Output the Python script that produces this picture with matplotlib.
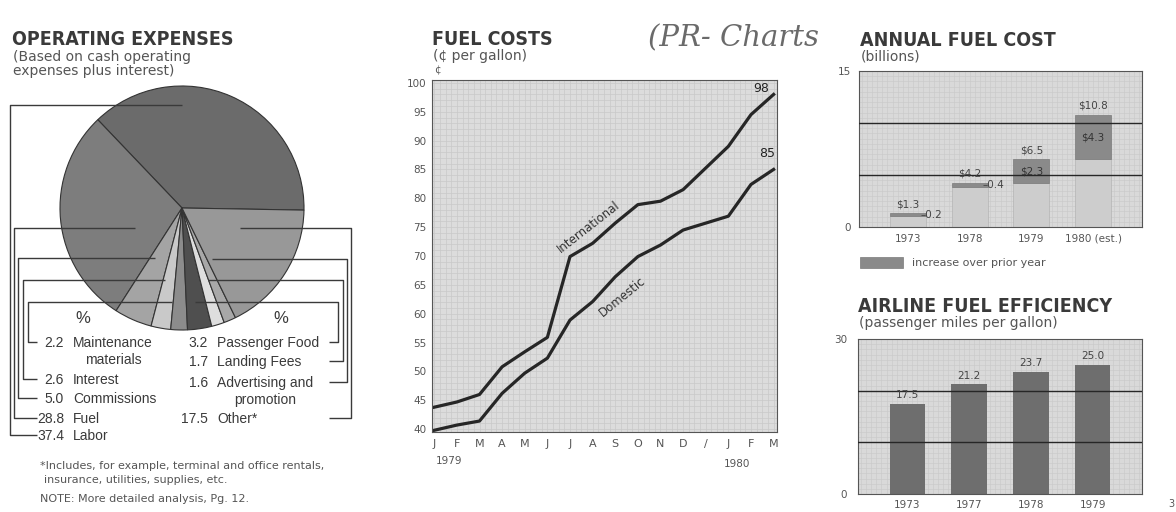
import numpy as np
import matplotlib
matplotlib.use('Agg')
import matplotlib.pyplot as plt
from matplotlib import font_manager as fm
from matplotlib.ticker import MultipleLocator
from matplotlib.patches import Rectangle

plt.rcParams['font.family'] = ['Liberation Sans', 'DejaVu Sans']

# --- data ---------------------------------------------------------------
# operating expenses, % (pie order, counter-clockwise)
exp_names = ['Labor', 'Fuel', 'Commissions', 'Interest', 'Maintenance\nmaterials',
             'Passenger Food', 'Landing Fees', 'Advertising and\npromotion', 'Other*']
exp_pct = [37.4, 28.8, 5.0, 2.6, 2.2, 3.2, 1.7, 1.6, 17.5]
exp_colors = ['#6b6b6b', '#7d7d7d', '#a4a4a4', '#c9c9c9', '#8c8c8c',
              '#4f4f4f', '#dedede', '#a8a8a8', '#989898']

# fuel costs, cents per gallon, Jan 1979 - Mar 1980
month_labels = ['J', 'F', 'M', 'A', 'M', 'J', 'J', 'A', 'S', 'O', 'N', 'D', '/', 'J', 'F', 'M']
month_pos = [0, 1, 2, 3, 4, 5, 6, 7, 8, 9, 10, 11, 13, 14, 15]
intl = [43.8, 44.7, 46.0, 50.8, 53.4, 55.9, 69.9, 72.2, 75.7, 78.9, 79.5, 81.5, 89.0, 94.5, 98.0]
dom = [39.8, 40.7, 41.4, 46.2, 49.7, 52.3, 58.9, 62.1, 66.4, 69.9, 71.9, 74.5, 76.9, 82.4, 85.0]

# annual fuel cost, $ billions
ann_years = ['1973', '1978', '1979', '1980 (est.)']
ann_total = [1.3, 4.2, 6.5, 10.8]
ann_incr = [0.2, 0.4, 2.3, 4.3]

# airline fuel efficiency, passenger miles per gallon
eff_years = ['1973', '1977', '1978', '1979']
eff_vals = [17.5, 21.2, 23.7, 25.0]


def title_font():
    # a narrow bold face if one is installed, else a smaller regular bold
    for fam, stretch, size in [('Liberation Sans Narrow', 'normal', 15),
                               ('DejaVu Sans', 'condensed', 14)]:
        try:
            path = fm.findfont(fm.FontProperties(family=fam, stretch=stretch, weight='bold'),
                               fallback_to_default=False)
        except Exception:
            continue
        if 'Narrow' in path or 'Condensed' in path:
            return dict(family=fam, fontstretch=stretch, fontsize=size)
    return dict(family='Liberation Sans', fontsize=13)


TXT = '#3a3a3a'
TITLE = dict(fontweight='bold', color='#3a3a3a', **title_font())
SMALL = 'DejaVu Sans'
SUB = dict(family=SMALL, fontsize=10, color='#555555')

fig = plt.figure(figsize=(11.76, 5.12), dpi=100)
page = fig.add_axes([0, 0, 1, 1])
H = 512


def txt(x, y, s, **kw):
    kw.setdefault('va', 'baseline')
    page.text(x, H - y, s, **kw)


def seg(xs, ys):
    page.plot(xs, [H - y for y in ys], color='#3a3a3a', lw=1, solid_capstyle='butt')


# --- operating expenses pie ---------------------------------------------
page.pie(exp_pct, colors=exp_colors, startangle=-1, center=(182, H - 208), radius=122,
         wedgeprops=dict(edgecolor='#333333', linewidth=0.8))
page.set_xlim(0, 1176)
page.set_ylim(0, H)
page.set_aspect('auto')
page.axis('off')

txt(12, 45, 'OPERATING EXPENSES', **TITLE)
txt(13, 61, '(Based on cash operating', **SUB)
txt(13, 75, 'expenses plus interest)', **SUB)

# leader layout (left: top to bottom in list)
left_items = [4, 3, 2, 1, 0]
left_label_y = [342, 379, 398, 418, 435]
left_level_y = [302, 280, 258, 228, 105]
left_rail_x = [28, 23, 18, 14, 10]
left_end_x = [172, 165, 155, 135, 182]
right_items = [5, 6, 7, 8]
right_label_y = [342, 361, 382, 418]
right_level_y = [302, 280, 259, 228]
right_rail_x = [338, 343, 347, 351]
right_end_x = [195, 208, 212, 240]

LAB = dict(fontsize=10, color=TXT)


def exp_label(x_val, x_name, ly, i):
    txt(x_val, ly + 5, f'{exp_pct[i]:.1f}', ha='right', **LAB)
    if '\n' in exp_names[i]:
        txt(x_name, ly - 6, exp_names[i], ha='left', va='top', multialignment='center',
            linespacing=1.3, **LAB)
    else:
        txt(x_name, ly + 5, exp_names[i], ha='left', **LAB)


txt(83, 323, '%', ha='center', fontsize=12, color=TXT)
txt(281, 323, '%', ha='center', fontsize=12, color=TXT)
for i, ly, lv, rx, ex in zip(left_items, left_label_y, left_level_y, left_rail_x, left_end_x):
    seg([ex, rx, rx, 37], [lv, lv, ly, ly])
    exp_label(64, 73, ly, i)
for i, ly, lv, rx, ex in zip(right_items, right_label_y, right_level_y, right_rail_x, right_end_x):
    seg([ex, rx, rx, 329], [lv, lv, ly, ly])
    exp_label(208, 217, ly, i)

NOTE = dict(family=SMALL, fontsize=8, color='#555')
txt(40, 469, '*Includes, for example, terminal and office rentals,', **NOTE)
txt(44, 483, 'insurance, utilities, supplies, etc.', **NOTE)
txt(40, 502, 'NOTE: More detailed analysis, Pg. 12.', **NOTE)

# handwritten note and page number
txt(648, 46, '(PR- Charts', family='DejaVu Serif', fontstyle='italic', fontsize=21, color='#6a6a6a')
txt(1168, 507, '3', family=SMALL, fontsize=7, color='#555')

# --- fuel costs line chart ----------------------------------------------
txt(432, 45, 'FUEL COSTS', **TITLE)
txt(433, 60, '(¢ per gallon)', **SUB)
txt(437, 73, '¢', ha='center', family=SMALL, fontsize=7.5, color='#555')
txt(449, 464, '1979', ha='center', family=SMALL, fontsize=7.5, color='#555')
txt(737, 467, '1980', ha='center', family=SMALL, fontsize=7.5, color='#555')

ax1 = fig.add_axes([432 / 1176, (H - 432) / H, 345 / 1176, 352 / H])
ax1.set_facecolor('#dcdcdc')
ax1.plot(month_pos, intl, color='#262626', lw=2.3, solid_joinstyle='round')
ax1.plot(month_pos, dom, color='#262626', lw=2.3, solid_joinstyle='round')
ax1.set_xlim(-0.1, 15.15)
ax1.set_ylim(39.5, 100.5)
ax1.set_yticks(range(40, 101, 5))
ax1.set_xticks(range(len(month_labels)))
ax1.set_xticklabels(month_labels)
ax1.xaxis.set_minor_locator(MultipleLocator(0.25))
ax1.yaxis.set_minor_locator(MultipleLocator(1))
ax1.grid(which='both', color='#c9c9c9', lw=0.5)
ax1.set_axisbelow(True)
ax1.tick_params(which='both', length=0, colors='#555', labelsize=8)
ax1.tick_params(axis='y', pad=4, labelsize=7.5)
ax1.tick_params(axis='x', pad=5)
for lab in ax1.get_xticklabels() + ax1.get_yticklabels():
    lab.set_family(SMALL)
for s in ax1.spines.values():
    s.set_color('#555')
    s.set_linewidth(0.8)
ax1.text(month_pos[-1] - 0.55, intl[-1] + 1.1, f'{intl[-1]:.0f}', ha='center', va='center',
         family=SMALL, fontsize=9, color='#222')
ax1.text(month_pos[-1] - 0.3, dom[-1] + 2.8, f'{dom[-1]:.0f}', ha='center', va='center',
         family=SMALL, fontsize=9, color='#222')
ax1.text(6.8, 75.0, 'International', rotation=38, ha='center', va='center',
         family=SMALL, fontsize=8.5, color='#333')
ax1.text(8.3, 62.9, 'Domestic', rotation=39, ha='center', va='center',
         family=SMALL, fontsize=8.5, color='#333')


def style_bar_axes(ax, ymax, ypad):
    ax.set_facecolor('#d9d9d9')
    ax.set_xlim(-0.794, 3.794)
    ax.set_ylim(0, ymax)
    ax.set_yticks([0, ymax])
    ax.xaxis.set_minor_locator(MultipleLocator(1 / 12))
    ax.yaxis.set_minor_locator(MultipleLocator(ymax / 30))
    ax.grid(which='both', color='#c8c8c8', lw=0.4)
    ax.set_axisbelow(True)
    ax.tick_params(which='both', length=0, colors='#555', labelsize=7.5)
    ax.tick_params(axis='y', pad=ypad)
    for lab in ax.get_xticklabels() + ax.get_yticklabels():
        lab.set_family(SMALL)
    for s in ax.spines.values():
        s.set_color('#555')
        s.set_linewidth(0.8)


# --- annual fuel cost bars ----------------------------------------------
txt(860, 46, 'ANNUAL FUEL COST', **TITLE)
txt(861, 60, '(billions)', **SUB)

ax2 = fig.add_axes([859 / 1176, (H - 227) / H, 283 / 1176, 156 / H])
xs = np.arange(len(ann_years))
w = 0.58
base = [t - d for t, d in zip(ann_total, ann_incr)]
ax2.bar(xs, base, width=w, color='#cdcdcd', edgecolor='#b4b4b4', lw=0.5, zorder=2)
ax2.bar(xs, ann_incr, bottom=base, width=w, color='#8a8a8a', edgecolor='#7a7a7a', lw=0.5, zorder=2)
for x, t, d in zip(xs, ann_total, ann_incr):
    ax2.text(x, t + 0.9, f'${t}', ha='center', va='center', family=SMALL, fontsize=7.5,
             color='#444', zorder=4)
    if d >= 1:
        ax2.text(x, t - d / 2, f'${d}', ha='center', va='center', family=SMALL, fontsize=7.5,
                 color='#333', zorder=4)
    else:
        ax2.text(x + w / 2 - 0.08, t - d / 2, f'–{d}', ha='left', va='center', family=SMALL,
                 fontsize=7.5, color='#444', zorder=4)
for yv in (5, 10):
    ax2.axhline(yv, color='#262626', lw=1, zorder=3)
ax2.set_xticks(xs)
ax2.set_xticklabels(ann_years)
style_bar_axes(ax2, 15, 6)
ax2.tick_params(axis='x', pad=5)

page.add_patch(Rectangle((860, H - 268), 43, 11, facecolor='#8a8a8a', edgecolor='#7a7a7a', lw=0.5))
txt(912, 266, 'increase over prior year', family=SMALL, fontsize=8, color='#555')

# --- airline fuel efficiency bars ---------------------------------------
txt(858, 312, 'AIRLINE FUEL EFFICIENCY', **TITLE)
txt(859, 327, '(passenger miles per gallon)', **SUB)

ax3 = fig.add_axes([858 / 1176, (H - 494) / H, 284 / 1176, 155 / H])
xs = np.arange(len(eff_years))
ax3.bar(xs, eff_vals, width=0.57, color='#6e6e6e', zorder=2)
for x, v in zip(xs, eff_vals):
    ax3.text(x, v + 1.7, f'{v:.1f}', ha='center', va='center', family=SMALL, fontsize=7.5,
             color='#444', zorder=4)
for yv in (10, 20):
    ax3.axhline(yv, color='#262626', lw=1, zorder=3)
ax3.set_xticks(xs)
ax3.set_xticklabels(eff_years)
style_bar_axes(ax3, 30, 8)
ax3.tick_params(axis='x', pad=4)

fig.savefig('out.png', dpi=100)
